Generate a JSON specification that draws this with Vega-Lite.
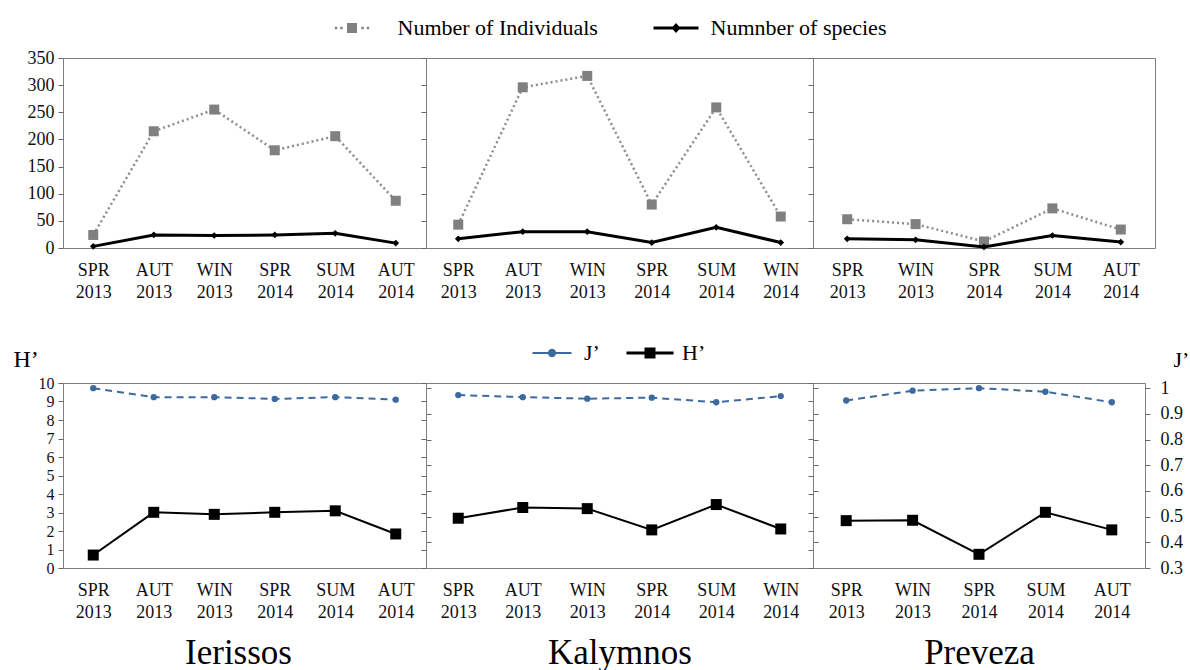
{
  "$schema": "https://vega.github.io/schema/vega-lite/v6.json",
  "padding": {"left": 12, "top": 16, "right": 0, "bottom": 0},
  "autosize": {"type": "pad"},
  "background": "white",
  "columns": 3,
  "spacing": {"row": 135, "column": 0},
  "bounds": "flush",
  "align": "each",
  "resolve": {
    "scale": {"shape": "independent", "fill": "independent"},
    "legend": {"shape": "independent", "fill": "independent"}
  },
  "config": {
    "view": {"stroke": "#7f7f7f", "strokeWidth": 1},
    "font": "Liberation Serif",
    "axis": {
      "labelFont": "Liberation Serif", "titleFont": "Liberation Serif", "labelColor": "#111111",
      "titleColor": "#000000", "titleFontWeight": "normal", "grid": false, "domain": false,
      "tickColor": "#666666"
    },
    "legend": {"labelFont": "Liberation Serif"},
    "text": {"font": "Liberation Serif"}
  },
  "datasets": {
    "top": [
      {"site": "Ierissos", "season": "SPR 2013", "series": "Number of Individuals", "value": 24},
      {"site": "Ierissos", "season": "AUT 2013", "series": "Number of Individuals", "value": 215},
      {"site": "Ierissos", "season": "WIN 2013", "series": "Number of Individuals", "value": 255},
      {"site": "Ierissos", "season": "SPR 2014", "series": "Number of Individuals", "value": 180},
      {"site": "Ierissos", "season": "SUM 2014", "series": "Number of Individuals", "value": 206},
      {"site": "Ierissos", "season": "AUT 2014", "series": "Number of Individuals", "value": 87},
      {"site": "Ierissos", "season": "SPR 2013", "series": "Numnber of species", "value": 3},
      {"site": "Ierissos", "season": "AUT 2013", "series": "Numnber of species", "value": 24},
      {"site": "Ierissos", "season": "WIN 2013", "series": "Numnber of species", "value": 23},
      {"site": "Ierissos", "season": "SPR 2014", "series": "Numnber of species", "value": 24},
      {"site": "Ierissos", "season": "SUM 2014", "series": "Numnber of species", "value": 27},
      {"site": "Ierissos", "season": "AUT 2014", "series": "Numnber of species", "value": 9},
      {"site": "Kalymnos", "season": "SPR 2013", "series": "Number of Individuals", "value": 43},
      {"site": "Kalymnos", "season": "AUT 2013", "series": "Number of Individuals", "value": 296},
      {"site": "Kalymnos", "season": "WIN 2013", "series": "Number of Individuals", "value": 317},
      {"site": "Kalymnos", "season": "SPR 2014", "series": "Number of Individuals", "value": 80},
      {"site": "Kalymnos", "season": "SUM 2014", "series": "Number of Individuals", "value": 259},
      {"site": "Kalymnos", "season": "WIN 2014", "series": "Number of Individuals", "value": 58},
      {"site": "Kalymnos", "season": "SPR 2013", "series": "Numnber of species", "value": 17},
      {"site": "Kalymnos", "season": "AUT 2013", "series": "Numnber of species", "value": 30},
      {"site": "Kalymnos", "season": "WIN 2013", "series": "Numnber of species", "value": 30},
      {"site": "Kalymnos", "season": "SPR 2014", "series": "Numnber of species", "value": 10},
      {"site": "Kalymnos", "season": "SUM 2014", "series": "Numnber of species", "value": 38},
      {"site": "Kalymnos", "season": "WIN 2014", "series": "Numnber of species", "value": 10},
      {"site": "Preveza", "season": "SPR 2013", "series": "Number of Individuals", "value": 53},
      {"site": "Preveza", "season": "WIN 2013", "series": "Number of Individuals", "value": 44},
      {"site": "Preveza", "season": "SPR 2014", "series": "Number of Individuals", "value": 12},
      {"site": "Preveza", "season": "SUM 2014", "series": "Number of Individuals", "value": 73},
      {"site": "Preveza", "season": "AUT 2014", "series": "Number of Individuals", "value": 34},
      {"site": "Preveza", "season": "SPR 2013", "series": "Numnber of species", "value": 17},
      {"site": "Preveza", "season": "WIN 2013", "series": "Numnber of species", "value": 15},
      {"site": "Preveza", "season": "SPR 2014", "series": "Numnber of species", "value": 2},
      {"site": "Preveza", "season": "SUM 2014", "series": "Numnber of species", "value": 23},
      {"site": "Preveza", "season": "AUT 2014", "series": "Numnber of species", "value": 11}
    ],
    "bottom": [
      {"site": "Ierissos", "season": "SPR 2013", "series": "H’", "value": 0.70},
      {"site": "Ierissos", "season": "AUT 2013", "series": "H’", "value": 3.01},
      {"site": "Ierissos", "season": "WIN 2013", "series": "H’", "value": 2.90},
      {"site": "Ierissos", "season": "SPR 2014", "series": "H’", "value": 3.01},
      {"site": "Ierissos", "season": "SUM 2014", "series": "H’", "value": 3.09},
      {"site": "Ierissos", "season": "AUT 2014", "series": "H’", "value": 1.84},
      {"site": "Ierissos", "season": "SPR 2013", "series": "J’", "value": 1.0},
      {"site": "Ierissos", "season": "AUT 2013", "series": "J’", "value": 0.965},
      {"site": "Ierissos", "season": "WIN 2013", "series": "J’", "value": 0.965},
      {"site": "Ierissos", "season": "SPR 2014", "series": "J’", "value": 0.958},
      {"site": "Ierissos", "season": "SUM 2014", "series": "J’", "value": 0.965},
      {"site": "Ierissos", "season": "AUT 2014", "series": "J’", "value": 0.955},
      {"site": "Kalymnos", "season": "SPR 2013", "series": "H’", "value": 2.69},
      {"site": "Kalymnos", "season": "AUT 2013", "series": "H’", "value": 3.27},
      {"site": "Kalymnos", "season": "WIN 2013", "series": "H’", "value": 3.21},
      {"site": "Kalymnos", "season": "SPR 2014", "series": "H’", "value": 2.06},
      {"site": "Kalymnos", "season": "SUM 2014", "series": "H’", "value": 3.43},
      {"site": "Kalymnos", "season": "WIN 2014", "series": "H’", "value": 2.11},
      {"site": "Kalymnos", "season": "SPR 2013", "series": "J’", "value": 0.973},
      {"site": "Kalymnos", "season": "AUT 2013", "series": "J’", "value": 0.965},
      {"site": "Kalymnos", "season": "WIN 2013", "series": "J’", "value": 0.959},
      {"site": "Kalymnos", "season": "SPR 2014", "series": "J’", "value": 0.963},
      {"site": "Kalymnos", "season": "SUM 2014", "series": "J’", "value": 0.945},
      {"site": "Kalymnos", "season": "WIN 2014", "series": "J’", "value": 0.969},
      {"site": "Preveza", "season": "SPR 2013", "series": "H’", "value": 2.56},
      {"site": "Preveza", "season": "WIN 2013", "series": "H’", "value": 2.58},
      {"site": "Preveza", "season": "SPR 2014", "series": "H’", "value": 0.74},
      {"site": "Preveza", "season": "SUM 2014", "series": "H’", "value": 3.01},
      {"site": "Preveza", "season": "AUT 2014", "series": "H’", "value": 2.06},
      {"site": "Preveza", "season": "SPR 2013", "series": "J’", "value": 0.952},
      {"site": "Preveza", "season": "WIN 2013", "series": "J’", "value": 0.990},
      {"site": "Preveza", "season": "SPR 2014", "series": "J’", "value": 1.0},
      {"site": "Preveza", "season": "SUM 2014", "series": "J’", "value": 0.986},
      {"site": "Preveza", "season": "AUT 2014", "series": "J’", "value": 0.945}
    ]
  },
  "concat": [
    {
      "width": 363, "height": 190,
      "data": {"name": "top"},
      "transform": [{"filter": "datum.site === 'Ierissos'"}],
      "encoding": {
        "x": {"field": "season", "type": "ordinal",
          "scale": {"type": "point", "padding": 0.5, "domain": ["SPR 2013", "AUT 2013", "WIN 2013", "SPR 2014", "SUM 2014", "AUT 2014"]},
          "axis": {"title": null, "labelExpr": "split(datum.label, ' ')", "labelFont": "Liberation Serif", "labelFontSize": 18, "labelPadding": 13, "labelLineHeight": 22, "ticks": false, "labelAngle": 0, "labelBaseline": "top"}},
        "y": {"field": "value", "type": "quantitative", "scale": {"domain": [0, 350], "nice": false},
          "axis": {"title": null, "values": [0, 50, 100, 150, 200, 250, 300, 350], "labelFont": "Liberation Serif", "labelFontSize": 18, "labelPadding": 4, "tickSize": 5}}
      },
      "layer": [
        {"transform": [{"filter": "datum.series === 'Number of Individuals'"}], "mark": {"type": "line", "color": "#8c8c8c", "strokeDash": [2, 3], "strokeWidth": 2.5}},
        {"transform": [{"filter": "datum.series === 'Number of Individuals'"}], "mark": {"type": "point", "shape": "square", "filled": true, "color": "#808080", "size": 100, "opacity": 1}},
        {"transform": [{"filter": "datum.series === 'Numnber of species'"}], "mark": {"type": "line", "color": "#000000", "strokeWidth": 3}},
        {"transform": [{"filter": "datum.series === 'Numnber of species'"}], "mark": {"type": "point", "shape": "diamond", "filled": true, "color": "#000000", "size": 45, "opacity": 1}}
      ]
    },
    {
      "width": 387, "height": 190,
      "data": {"name": "top"},
      "transform": [{"filter": "datum.site === 'Kalymnos'"}],
      "encoding": {
        "x": {"field": "season", "type": "ordinal",
          "scale": {"type": "point", "padding": 0.5, "domain": ["SPR 2013", "AUT 2013", "WIN 2013", "SPR 2014", "SUM 2014", "WIN 2014"]},
          "axis": {"title": null, "labelExpr": "split(datum.label, ' ')", "labelFont": "Liberation Serif", "labelFontSize": 18, "labelPadding": 13, "labelLineHeight": 22, "ticks": false, "labelAngle": 0, "labelBaseline": "top"}},
        "y": {"field": "value", "type": "quantitative", "scale": {"domain": [0, 350], "nice": false},
          "axis": {"title": null, "values": [0, 50, 100, 150, 200, 250, 300, 350], "labels": false, "tickSize": 5}}
      },
      "layer": [
        {"transform": [{"filter": "datum.series === 'Number of Individuals'"}], "mark": {"type": "line", "color": "#8c8c8c", "strokeDash": [2, 3], "strokeWidth": 2.5}},
        {"transform": [{"filter": "datum.series === 'Number of Individuals'"}], "mark": {"type": "point", "shape": "square", "filled": true, "color": "#808080", "size": 100, "opacity": 1}},
        {"transform": [{"filter": "datum.series === 'Numnber of species'"}], "mark": {"type": "line", "color": "#000000", "strokeWidth": 3}},
        {"transform": [{"filter": "datum.series === 'Numnber of species'"}], "mark": {"type": "point", "shape": "diamond", "filled": true, "color": "#000000", "size": 45, "opacity": 1}},
        {"transform": [{"filter": "false"}], "mark": {"type": "point", "filled": true, "opacity": 1},
          "encoding": {
            "shape": {"field": "series", "type": "nominal",
              "scale": {"domain": ["Number of Individuals", "Numnber of species"],
                "range": ["M-2.82,-0.12H-2.58V0.12H-2.82Z M-2.27,-0.12H-2.03V0.12H-2.27Z M-1.6,-0.5H-0.6V0.5H-1.6Z M-0.17,-0.12H0.07V0.12H-0.17Z M0.38,-0.12H0.62V0.12H0.38Z",
                          "M-2.25,-0.14H2.25V0.14H-2.25Z M0,-0.5L0.45,0L0,0.5L-0.45,0Z"]},
              "legend": {"orient": "none", "legendX": -74, "legendY": -41, "direction": "horizontal", "title": null, "symbolSize": 400, "symbolStrokeWidth": 0, "labelFont": "Liberation Serif", "labelFontSize": 22, "labelColor": "#000000", "labelOffset": 23.5, "columnPadding": 55, "padding": 0, "labelLimit": 400}},
            "fill": {"field": "series", "type": "nominal",
              "scale": {"domain": ["Number of Individuals", "Numnber of species"], "range": ["#808080", "#000000"]},
              "legend": {"orient": "none", "legendX": -74, "legendY": -41, "direction": "horizontal", "title": null, "symbolSize": 400, "symbolStrokeWidth": 0, "labelFont": "Liberation Serif", "labelFontSize": 22, "labelColor": "#000000", "labelOffset": 23.5, "columnPadding": 55, "padding": 0, "labelLimit": 400}}
          }}
      ]
    },
    {
      "width": 342, "height": 190,
      "data": {"name": "top"},
      "transform": [{"filter": "datum.site === 'Preveza'"}],
      "encoding": {
        "x": {"field": "season", "type": "ordinal",
          "scale": {"type": "point", "padding": 0.5, "domain": ["SPR 2013", "WIN 2013", "SPR 2014", "SUM 2014", "AUT 2014"]},
          "axis": {"title": null, "labelExpr": "split(datum.label, ' ')", "labelFont": "Liberation Serif", "labelFontSize": 18, "labelPadding": 13, "labelLineHeight": 22, "ticks": false, "labelAngle": 0, "labelBaseline": "top"}},
        "y": {"field": "value", "type": "quantitative", "scale": {"domain": [0, 350], "nice": false},
          "axis": {"title": null, "values": [0, 50, 100, 150, 200, 250, 300, 350], "labels": false, "tickSize": 5}}
      },
      "layer": [
        {"transform": [{"filter": "datum.series === 'Number of Individuals'"}], "mark": {"type": "line", "color": "#8c8c8c", "strokeDash": [2, 3], "strokeWidth": 2.5}},
        {"transform": [{"filter": "datum.series === 'Number of Individuals'"}], "mark": {"type": "point", "shape": "square", "filled": true, "color": "#808080", "size": 100, "opacity": 1}},
        {"transform": [{"filter": "datum.series === 'Numnber of species'"}], "mark": {"type": "line", "color": "#000000", "strokeWidth": 3}},
        {"transform": [{"filter": "datum.series === 'Numnber of species'"}], "mark": {"type": "point", "shape": "diamond", "filled": true, "color": "#000000", "size": 45, "opacity": 1}}
      ]
    },
    {
      "width": 363, "height": 185,
      "data": {"name": "bottom"},
      "transform": [{"filter": "datum.site === 'Ierissos'"}],
      "encoding": {
        "x": {"field": "season", "type": "ordinal",
          "scale": {"type": "point", "padding": 0.5, "domain": ["SPR 2013", "AUT 2013", "WIN 2013", "SPR 2014", "SUM 2014", "AUT 2014"]},
          "axis": {"title": "Ierissos", "titleFont": "Liberation Serif", "titleFontSize": 35, "titleY": 95, "titleX": 175, "titleBaseline": "alphabetic", "labelExpr": "split(datum.label, ' ')", "labelFont": "Liberation Serif", "labelFontSize": 18, "labelPadding": 13, "labelLineHeight": 22, "ticks": false, "labelAngle": 0, "labelBaseline": "top"}}
      },
      "layer": [
        {"transform": [{"filter": "datum.series === 'H’'"}],
          "encoding": {"y": {"field": "value", "type": "quantitative", "scale": {"domain": [0, 10], "nice": false},
            "axis": {"orient": "left", "values": [0, 1, 2, 3, 4, 5, 6, 7, 8, 9, 10], "title": "H’", "titleFont": "Liberation Serif", "titleAngle": 0, "titleAlign": "left", "titleBaseline": "alphabetic", "titleX": -50, "titleY": -17, "titleFontSize": 24, "labelFont": "Liberation Serif", "labelFontSize": 16, "labelPadding": 4, "tickSize": 5}}},
          "layer": [
            {"mark": {"type": "line", "color": "#000000", "strokeWidth": 2}},
            {"mark": {"type": "point", "shape": "square", "filled": true, "color": "#000000", "size": 121, "opacity": 1}}
          ]},
        {"transform": [{"filter": "datum.series === 'J’'"}],
          "encoding": {"y": {"field": "value", "type": "quantitative", "scale": {"domain": [0.3, 1.02], "nice": false, "zero": false},
            "axis": {"orient": "right", "values": [0.3, 0.4, 0.5, 0.6, 0.7, 0.8, 0.9, 1], "title": null, "labels": false, "tickSize": 5}}},
          "layer": [
            {"mark": {"type": "line", "color": "#3d6a9e", "strokeWidth": 2, "strokeDash": [7, 5]}},
            {"mark": {"type": "point", "shape": "circle", "filled": true, "color": "#3d6a9e", "size": 40, "opacity": 1}}
          ]}
      ],
      "resolve": {"scale": {"y": "independent"}}
    },
    {
      "width": 387, "height": 185,
      "data": {"name": "bottom"},
      "transform": [{"filter": "datum.site === 'Kalymnos'"}],
      "encoding": {
        "x": {"field": "season", "type": "ordinal",
          "scale": {"type": "point", "padding": 0.5, "domain": ["SPR 2013", "AUT 2013", "WIN 2013", "SPR 2014", "SUM 2014", "WIN 2014"]},
          "axis": {"title": "Kalymnos", "titleFont": "Liberation Serif", "titleFontSize": 35, "titleY": 95, "titleBaseline": "alphabetic", "labelExpr": "split(datum.label, ' ')", "labelFont": "Liberation Serif", "labelFontSize": 18, "labelPadding": 13, "labelLineHeight": 22, "ticks": false, "labelAngle": 0, "labelBaseline": "top"}}
      },
      "layer": [
        {"transform": [{"filter": "datum.series === 'H’'"}],
          "encoding": {"y": {"field": "value", "type": "quantitative", "scale": {"domain": [0, 10], "nice": false},
            "axis": {"orient": "left", "values": [0, 1, 2, 3, 4, 5, 6, 7, 8, 9, 10], "title": null, "labels": false, "tickSize": 5}}},
          "layer": [
            {"mark": {"type": "line", "color": "#000000", "strokeWidth": 2}},
            {"mark": {"type": "point", "shape": "square", "filled": true, "color": "#000000", "size": 121, "opacity": 1}}
          ]},
        {"transform": [{"filter": "datum.series === 'J’'"}],
          "encoding": {"y": {"field": "value", "type": "quantitative", "scale": {"domain": [0.3, 1.02], "nice": false, "zero": false},
            "axis": {"orient": "right", "values": [0.3, 0.4, 0.5, 0.6, 0.7, 0.8, 0.9, 1], "title": null, "labels": false, "tickSize": 5}}},
          "layer": [
            {"mark": {"type": "line", "color": "#3d6a9e", "strokeWidth": 2, "strokeDash": [7, 5]}},
            {"mark": {"type": "point", "shape": "circle", "filled": true, "color": "#3d6a9e", "size": 40, "opacity": 1}}
          ]},
        {"transform": [{"filter": "false"}], "mark": {"type": "point", "filled": true, "opacity": 1},
          "encoding": {
            "shape": {"field": "series", "type": "nominal",
              "scale": {"domain": ["J’", "H’"],
                "range": ["M-1.95,-0.11H1.95V0.11H-1.95Z M0.42,0L0.364,0.21L0.21,0.364L0,0.42L-0.21,0.364L-0.364,0.21L-0.42,0L-0.364,-0.21L-0.21,-0.364L0,-0.42L0.21,-0.364L0.364,-0.21Z",
                          "M-2.35,-0.15H2.35V0.15H-2.35Z M-0.55,-0.55H0.55V0.55H-0.55Z"]},
              "legend": {"orient": "none", "legendX": 115, "legendY": -41, "direction": "horizontal", "title": null, "symbolSize": 400, "symbolStrokeWidth": 0, "labelFont": "Liberation Serif", "labelFontSize": 22, "labelColor": "#000000", "labelOffset": 21, "columnPadding": 26, "padding": 0, "labelLimit": 200}},
            "fill": {"field": "series", "type": "nominal",
              "scale": {"domain": ["J’", "H’"], "range": ["#3d6a9e", "#000000"]},
              "legend": {"orient": "none", "legendX": 115, "legendY": -41, "direction": "horizontal", "title": null, "symbolSize": 400, "symbolStrokeWidth": 0, "labelFont": "Liberation Serif", "labelFontSize": 22, "labelColor": "#000000", "labelOffset": 21, "columnPadding": 26, "padding": 0, "labelLimit": 200}}
          }}
      ],
      "resolve": {"scale": {"y": "independent"}}
    },
    {
      "width": 332, "height": 185,
      "data": {"name": "bottom"},
      "transform": [{"filter": "datum.site === 'Preveza'"}],
      "encoding": {
        "x": {"field": "season", "type": "ordinal",
          "scale": {"type": "point", "padding": 0.5, "domain": ["SPR 2013", "WIN 2013", "SPR 2014", "SUM 2014", "AUT 2014"]},
          "axis": {"title": "Preveza", "titleFont": "Liberation Serif", "titleFontSize": 35, "titleY": 95, "titleBaseline": "alphabetic", "labelExpr": "split(datum.label, ' ')", "labelFont": "Liberation Serif", "labelFontSize": 18, "labelPadding": 13, "labelLineHeight": 22, "ticks": false, "labelAngle": 0, "labelBaseline": "top"}}
      },
      "layer": [
        {"transform": [{"filter": "datum.series === 'H’'"}],
          "encoding": {"y": {"field": "value", "type": "quantitative", "scale": {"domain": [0, 10], "nice": false},
            "axis": {"orient": "left", "values": [0, 1, 2, 3, 4, 5, 6, 7, 8, 9, 10], "title": null, "labels": false, "tickSize": 5}}},
          "layer": [
            {"mark": {"type": "line", "color": "#000000", "strokeWidth": 2}},
            {"mark": {"type": "point", "shape": "square", "filled": true, "color": "#000000", "size": 121, "opacity": 1}}
          ]},
        {"transform": [{"filter": "datum.series === 'J’'"}],
          "encoding": {"y": {"field": "value", "type": "quantitative", "scale": {"domain": [0.3, 1.02], "nice": false, "zero": false},
            "axis": {"orient": "right", "values": [0.3, 0.4, 0.5, 0.6, 0.7, 0.8, 0.9, 1], "format": "~g", "title": "J’", "titleFont": "Liberation Serif", "titleAngle": 0, "titleAlign": "left", "titleBaseline": "alphabetic", "titleX": 28, "titleY": -17, "titleFontSize": 22, "labelFont": "Liberation Serif", "labelFontSize": 18, "labelPadding": 10, "tickSize": 5}}},
          "layer": [
            {"mark": {"type": "line", "color": "#3d6a9e", "strokeWidth": 2, "strokeDash": [7, 5]}},
            {"mark": {"type": "point", "shape": "circle", "filled": true, "color": "#3d6a9e", "size": 40, "opacity": 1}}
          ]}
      ],
      "resolve": {"scale": {"y": "independent"}}
    }
  ]
}
